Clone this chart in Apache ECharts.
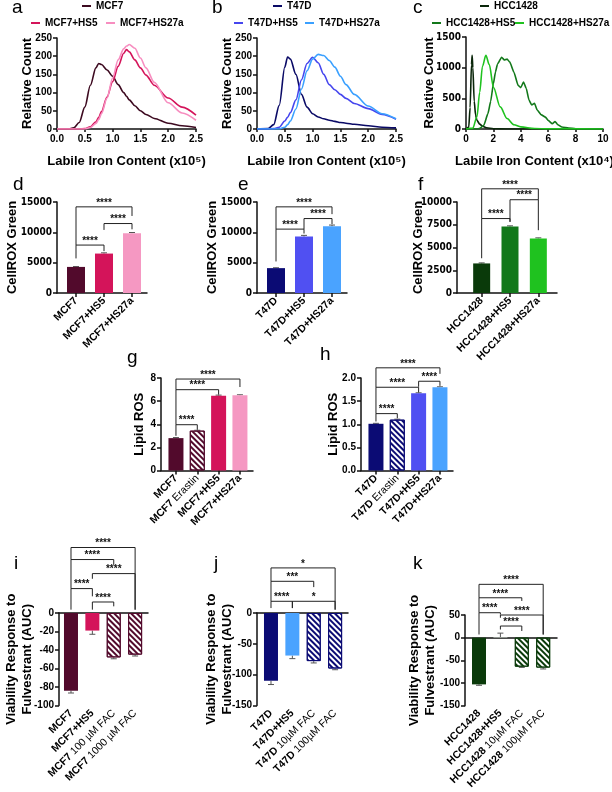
<!DOCTYPE html>
<html>
<head>
<meta charset="utf-8">
<script src="https://cdn.jsdelivr.net/npm/echarts@6/dist/echarts.min.js"></script>
<style>
html, body { margin: 0; padding: 0; background: #fff; }
#chart { width: 612px; height: 792px; }
</style>
</head>
<body>
<div id="chart"></div>
<script>
var FONT = '"Liberation Sans", Arial, sans-serif';
var NARROW = '"Liberation Sans Narrow", "DejaVu Sans Condensed", "Liberation Sans", sans-serif';

// ---- a: MCF7 labile iron histograms (x10^5)
var aX = [0, 0.2, 0.3, 0.4, 0.5, 0.6, 0.7, 0.75, 0.8, 0.9, 1.0, 1.1, 1.2, 1.25, 1.3, 1.4, 1.5, 1.6, 1.75, 2.0, 2.25, 2.5];
var aMCF7 = [0, 0, 3, 18, 60, 120, 168, 180, 177, 162, 145, 122, 100, 90, 80, 64, 50, 40, 29, 16, 9, 4];
var aMCF7HS5 = [0, 0, 0, 0, 1, 6, 20, 32, 48, 88, 130, 172, 208, 218, 212, 190, 168, 148, 120, 85, 60, 38];
var aMCF7HS27a = [0, 0, 0, 0, 0, 4, 15, 26, 42, 85, 140, 190, 220, 228, 232, 222, 195, 168, 128, 72, 44, 24];

// ---- b: T47D labile iron histograms (x10^5)
var bX = [0, 0.2, 0.3, 0.4, 0.5, 0.55, 0.6, 0.7, 0.8, 0.9, 1.0, 1.1, 1.2, 1.3, 1.4, 1.5, 1.6, 1.75, 2.0, 2.25, 2.5];
var bT47D = [0, 1, 12, 65, 170, 198, 192, 150, 95, 60, 42, 33, 28, 24, 21, 18, 16, 13, 9, 5, 3];
var bT47DHS5 = [0, 0, 1, 5, 22, 32, 45, 80, 135, 180, 197, 182, 150, 122, 108, 95, 84, 70, 56, 40, 27];
var bT47DHS27a = [0, 0, 0, 0, 5, 12, 22, 55, 110, 160, 192, 205, 202, 188, 170, 145, 122, 95, 63, 42, 28];

// ---- c: HCC1428 labile iron histograms (x10^4)
var cX1 = [0, 0.2, 0.3, 0.4, 0.45, 0.5, 0.6, 0.7, 0.8, 1.0, 1.2, 1.5, 2.0, 3.0, 10];
var cHCC = [0, 30, 350, 1050, 1200, 1000, 450, 230, 140, 80, 45, 20, 5, 0, 0];
var cX2 = [0, 0.8, 1.0, 1.3, 1.6, 1.8, 2.0, 2.15, 2.3, 2.6, 2.8, 3.0, 3.2, 3.5, 3.8, 4.0, 4.2, 4.4, 4.6, 4.8, 5.0, 5.2, 5.5, 5.8, 6.0, 6.3, 6.5, 6.7, 7.0, 7.5, 8.0, 9.0, 10];
var cHCCHS5 = [0, 0, 10, 60, 250, 450, 740, 930, 1060, 1170, 1125, 1140, 1090, 925, 712, 675, 766, 660, 471, 391, 418, 310, 230, 193, 140, 86, 123, 70, 32, 16, 5, 1, 0];
var cX3 = [0, 0.5, 0.8, 1.0, 1.2, 1.45, 1.7, 2.0, 2.5, 3.0, 3.5, 4.0, 5.0, 6.0, 10];
var cHCCHS27a = [0, 15, 200, 600, 1020, 1200, 1050, 680, 360, 170, 70, 35, 8, 2, 0];

// ---- d/e/f: CellROX Green
var dCats = ['MCF7', 'MCF7+HS5', 'MCF7+HS27a'];
var dVals = [4300, 6500, 9850];
var dErr = [60, 120, 120];
var eCats = ['T47D', 'T47D+HS5', 'T47D+HS27a'];
var eVals = [4100, 9300, 11000];
var eErr = [60, 200, 200];
var fCats = ['HCC1428', 'HCC1428+HS5', 'HCC1428+HS27a'];
var fVals = [3250, 7300, 6000];
var fErr = [60, 80, 60];

// ---- g/h: Lipid ROS
var gCats = ['MCF7', 'MCF7 Erastin', 'MCF7+HS5', 'MCF7+HS27a'];
var gVals = [2.8, 3.45, 6.47, 6.5];
var gErr = [0.05, 0.03, 0.05, 0.05];
var hCats = ['T47D', 'T47D Erastin', 'T47D+HS5', 'T47D+HS27a'];
var hVals = [1.01, 1.10, 1.67, 1.80];
var hErr = [0.01, 0.01, 0.01, 0.01];

// ---- i/j/k: viability response to fulvestrant (AUC)
var iCats = ['MCF7', 'MCF7+HS5', 'MCF7 100 µM FAC', 'MCF7 1000 µM FAC'];
var iVals = [-84, -19, -48, -45];
var iErr = [2.5, 4, 1.5, 1.5];
var jCats = ['T47D', 'T47D+HS5', 'T47D 10µM FAC', 'T47D 100µM FAC'];
var jVals = [-110, -69, -78, -90];
var jErr = [6, 5, 3, 2];
var kCats = ['HCC1428', 'HCC1428+HS5', 'HCC1428 10µM FAC', 'HCC1428 100µM FAC'];
var kVals = [-103, 1, -64, -66];
var kErr = [2, 9, 1.5, 3];

// significance brackets: [from, to, level, left leg end, right leg end]
var dBrackets = [[0, 2, 14200, 7900, 12700], [1, 2, 11450, 10400, 10500], [0, 1, 7900, 5700, 6900]];
var dStars = ['****', '****', '****'];
var eBrackets = [[0, 2, 14200, 10530, 13000], [1, 2, 12270, 10530, 11350], [0, 1, 10530, 5200, 9800]];
var eStars = ['****', '****', '****'];
var fBrackets = [[0, 2, 11450, 8180, 10250], [1, 2, 10250, 7820, 6900], [0, 1, 8180, 3820, 7820]];
var fStars = ['****', '****', '****'];
var gBrackets = [[0, 3, 7.91, 6.99, 7.22], [0, 2, 6.99, 3.96, 6.56], [0, 1, 3.96, 3.0, 3.52]];
var gStars = ['****', '****', '****'];
var hBrackets = [[0, 3, 2.22, 1.80, 2.09], [0, 2, 1.80, 1.23, 1.69], [2, 3, 1.93, 1.81, 1.83], [0, 1, 1.23, 1.06, 1.13]];
var hStars = ['****', '****', '****', '****'];
var iBrackets = [[0, 3, 70.8, 57.8, 3.6], [0, 2, 57.8, 26.4, 52], [1, 3, 42.6, 37, 3.6], [0, 1, 26.4, 3.6, 18], [1, 2, 11.9, 3.6, 7.2]];
var iStars = ['****', '****', '****', '****', '****'];
var jBrackets = [[0, 3, 73.1, 51.4, 5.4], [0, 2, 51.4, 19, 42], [0, 1, 19, 8, 8], [1, 3, 19, 8, 5.4]];
var jStars = ['*', '***', '****', '*'];
var kBrackets = [[0, 3, 117.6, 88, 7], [0, 2, 88, 55, 81], [0, 1, 55, 7, 51], [1, 3, 50, 44, 7], [1, 2, 25.7, 18, 14.7]];
var kStars = ['****', '****', '****', '****', '****'];

// colours
var MAROON = '#520a2c', CRIMSON = '#d4145a', PINK = '#f598c2';
var NAVY = '#0b0b74', BLUE = '#5050f2', SKY = '#4aa3ff';
var DKGREEN = '#0a3a0a', GREEN = '#12781a', LIME = '#1fc21f';

var axisLS = { color: '#111', width: 1.5 };
var grid = [], xAxis = [], yAxis = [], series = [], legend = [], title = [];

function pairs(xs, ys) {
    return xs.map(function (x, i) { return [x, ys[i]]; });
}

function plain(v) { return String(v); }

function addGrid(left, top, width, height) {
    grid.push({ left: left, top: top, width: width, height: height, outerBoundsMode: 'none', containLabel: false });
    return grid.length - 1;
}

function tickLabel(fmt, family) {
    return { fontFamily: family || FONT, fontWeight: 'bold', fontSize: 10, color: '#000', margin: 5, formatter: fmt || plain };
}

function nameStyle(extra) {
    var s = { fontFamily: FONT, fontWeight: 'bold', fontSize: 13, color: '#000' };
    for (var k in extra) s[k] = extra[k];
    return s;
}

function addLetter(text, left, top) {
    title.push({
        text: text, left: left, top: top, padding: 0,
        textStyle: { fontFamily: FONT, fontSize: 19, fontWeight: 'normal', color: '#000' }
    });
}

function addLegend(name, left, top) {
    legend.push({
        data: [name], left: left, top: top,
        icon: 'rect', itemWidth: 9, itemHeight: 2, padding: 0,
        textStyle: { fontFamily: FONT, fontWeight: 'bold', fontSize: 10, color: '#000' }
    });
}

function addLinePanel(p) {
    var gi = addGrid(p.left, p.top, p.width, p.height);
    xAxis.push({
        gridIndex: gi, type: 'value', min: 0, max: p.xMax, interval: p.xInt,
        name: p.xName, nameLocation: 'middle', nameGap: 26, nameMoveOverlap: false, nameTextStyle: nameStyle({}),
        axisLine: { show: true, lineStyle: axisLS },
        axisTick: { show: true, length: 3, lineStyle: axisLS },
        axisLabel: tickLabel(p.xFmt), splitLine: { show: false }
    });
    yAxis.push({
        gridIndex: gi, type: 'value', min: 0, max: p.yMax, interval: p.yInt,
        name: 'Relative Count', nameLocation: 'middle', nameRotate: 90, nameGap: p.nameGap,
        nameMoveOverlap: false, nameTextStyle: nameStyle({}),
        axisLine: { show: true, lineStyle: axisLS },
        axisTick: { show: true, length: 4, lineStyle: axisLS },
        axisLabel: tickLabel(null, p.yFont), splitLine: { show: false }
    });
    p.lines.forEach(function (l, i) {
        series.push({
            type: 'line', name: l.name, xAxisIndex: gi, yAxisIndex: gi,
            data: pairs(l.x, l.y), showSymbol: false, smooth: l.smooth, smoothMonotone: 'x',
            lineStyle: { color: l.color, width: 1.6 }, itemStyle: { color: l.color }
        });
        addLegend(l.name, p.legs[i][0], p.legs[i][1]);
    });
}

function catLabel(v) {
    var sp = v.indexOf(' ');
    if (sp < 0) return '{b|' + v + '}';
    return '{b|' + v.slice(0, sp) + '}{n|' + v.slice(sp) + '}';
}

function hatch(c) {
    return {
        color: '#fff', borderColor: c, borderWidth: 1,
        decal: { symbol: 'rect', symbolSize: 1, color: c, dashArrayX: [1, 0], dashArrayY: [2, 2], rotation: Math.PI / 4 }
    };
}

function addBarPanel(p) {
    // frame grid carries the visible y axis and the x axis line
    var fi = addGrid(p.frame[0], p.top, p.frame[1], p.height);
    xAxis.push({
        gridIndex: fi, type: 'value', min: 0, max: 1,
        axisLine: { show: true, onZero: true, lineStyle: axisLS },
        axisTick: { show: false }, axisLabel: { show: false }, splitLine: { show: false }
    });
    yAxis.push({
        gridIndex: fi, type: 'value', min: p.min, max: p.max, interval: p.interval,
        name: p.yName, nameLocation: 'middle', nameRotate: 90, nameGap: p.nameGap, nameMoveOverlap: false,
        nameTextStyle: nameStyle({ lineHeight: 16 }),
        axisLine: { show: true, lineStyle: axisLS },
        axisTick: { show: true, length: 4, lineStyle: axisLS },
        axisLabel: tickLabel(p.yFmt, p.yFont), splitLine: { show: false }
    });
    // bar grid: categories
    var bi = addGrid(p.bars[0], p.top, p.bars[1], p.height);
    var xi = xAxis.length;
    xAxis.push({
        gridIndex: bi, type: 'category', data: p.cats,
        axisLine: { show: false, onZero: false },
        axisTick: { show: p.ticks, alignWithLabel: true, length: 4, lineStyle: axisLS },
        axisLabel: {
            rotate: 45, margin: 6, interval: 0, formatter: catLabel,
            rich: {
                b: { fontFamily: FONT, fontWeight: 'bold', fontSize: 10.5, color: '#000' },
                n: { fontFamily: FONT, fontWeight: 'normal', fontSize: 10.5, color: '#000' }
            }
        }
    });
    var yi = yAxis.length;
    yAxis.push({ gridIndex: bi, type: 'value', min: p.min, max: p.max, show: false });

    series.push({
        type: 'bar', name: p.id + ' bars', xAxisIndex: xi, yAxisIndex: yi, barWidth: p.barWidth,
        data: p.vals.map(function (v, i) {
            var st = p.styles[i];
            return { value: v, itemStyle: st.hatch ? hatch(st.color) : { color: st.color } };
        })
    });
    series.push({
        type: 'custom', name: p.id + ' err', xAxisIndex: xi, yAxisIndex: yi, clip: false,
        data: p.vals.map(function (v, i) { return [i, v, p.err[i]]; }),
        renderItem: function (params, api) {
            var v = api.value(1), e = api.value(2);
            var end = v >= 0 ? v + e : v - e;
            var a = api.coord([api.value(0), v]), b = api.coord([api.value(0), end]);
            var ls = { stroke: '#555', lineWidth: 1 };
            return {
                type: 'group', children: [
                    { type: 'line', shape: { x1: a[0], y1: a[1], x2: b[0], y2: b[1] }, style: ls },
                    { type: 'line', shape: { x1: b[0] - 3, y1: b[1], x2: b[0] + 3, y2: b[1] }, style: ls }
                ]
            };
        }
    });
    series.push({
        type: 'custom', name: p.id + ' sig', xAxisIndex: xi, yAxisIndex: yi, clip: false,
        data: p.brackets,
        renderItem: function (params, api) {
            var x1 = api.value(0), x2 = api.value(1), y = api.value(2);
            var a = api.coord([x1, y]), b = api.coord([x2, y]);
            var l = api.coord([x1, api.value(3)]), r = api.coord([x2, api.value(4)]);
            return {
                type: 'group', children: [
                    {
                        type: 'polyline',
                        shape: { points: [[a[0], l[1]], a, b, [b[0], r[1]]] },
                        style: { stroke: '#222', fill: null, lineWidth: 1 }
                    },
                    {
                        type: 'text', x: (a[0] + b[0]) / 2, y: a[1] + 1,
                        style: {
                            text: p.stars[params.dataIndex], fill: '#111',
                            font: 'bold 10px ' + FONT, align: 'center', verticalAlign: 'bottom'
                        }
                    }
                ]
            };
        }
    });
}

// ---- top row
addLinePanel({
    left: 57, top: 38, width: 139, height: 91, xMax: 2.5, xInt: 0.5, yMax: 250, yInt: 50,
    xName: 'Labile Iron Content (x10⁵)', nameGap: 23.5,
    xFmt: function (v) { return v.toFixed(1); },
    legs: [[82, 1], [31, 18], [106, 18]],
    lines: [
        { name: 'MCF7', x: aX, y: aMCF7, color: '#3d0a20', smooth: 0.3 },
        { name: 'MCF7+HS5', x: aX, y: aMCF7HS5, color: CRIMSON, smooth: 0.3 },
        { name: 'MCF7+HS27a', x: aX, y: aMCF7HS27a, color: '#f78ec0', smooth: 0.3 }
    ]
});
addLinePanel({
    left: 257, top: 38, width: 139, height: 91, xMax: 2.5, xInt: 0.5, yMax: 250, yInt: 50,
    xName: 'Labile Iron Content (x10⁵)', nameGap: 23.5,
    xFmt: function (v) { return v.toFixed(1); },
    legs: [[273, 1], [234, 18], [305, 18]],
    lines: [
        { name: 'T47D', x: bX, y: bT47D, color: '#0a0a66', smooth: 0.3 },
        { name: 'T47D+HS5', x: bX, y: bT47DHS5, color: '#4646ee', smooth: 0.3 },
        { name: 'T47D+HS27a', x: bX, y: bT47DHS27a, color: '#3aa0ff', smooth: 0.3 }
    ]
});
addLinePanel({
    left: 466, top: 37, width: 137, height: 92, xMax: 10, xInt: 2, yMax: 1500, yInt: 500,
    xName: 'Labile Iron Content (x10⁴)', nameGap: 30, yFont: NARROW,
    legs: [[480, 1], [432, 18], [515, 18]],
    lines: [
        { name: 'HCC1428', x: cX1, y: cHCC, color: '#0a260a', smooth: 0.25 },
        { name: 'HCC1428+HS5', x: cX2, y: cHCCHS5, color: GREEN, smooth: 0.15 },
        { name: 'HCC1428+HS27a', x: cX3, y: cHCCHS27a, color: LIME, smooth: 0.3 }
    ]
});

// ---- second row: CellROX Green
addBarPanel({
    id: 'd', frame: [57, 90], bars: [62, 84], top: 202, height: 91, min: 0, max: 15000, interval: 5000,
    yName: 'CellROX Green', nameGap: 36.5, yFont: NARROW, cats: dCats, vals: dVals, err: dErr, barWidth: 18, ticks: true,
    styles: [{ color: MAROON }, { color: CRIMSON }, { color: PINK }],
    brackets: dBrackets, stars: dStars
});
addBarPanel({
    id: 'e', frame: [257, 90], bars: [262, 84], top: 202, height: 91, min: 0, max: 15000, interval: 5000,
    yName: 'CellROX Green', nameGap: 36.5, yFont: NARROW, cats: eCats, vals: eVals, err: eErr, barWidth: 18, ticks: true,
    styles: [{ color: NAVY }, { color: BLUE }, { color: SKY }],
    brackets: eBrackets, stars: eStars
});
addBarPanel({
    id: 'f', frame: [457, 100], bars: [467.5, 85], top: 202, height: 91, min: 0, max: 10000, interval: 2500,
    yName: 'CellROX Green', nameGap: 31, yFont: NARROW, cats: fCats, vals: fVals, err: fErr, barWidth: 17, ticks: true,
    styles: [{ color: DKGREEN }, { color: GREEN }, { color: LIME }],
    brackets: fBrackets, stars: fStars
});

// ---- third row: Lipid ROS
addBarPanel({
    id: 'g', frame: [161, 92], bars: [165.3, 85.3], top: 378, height: 92.5, min: 0, max: 8, interval: 2,
    yName: 'Lipid ROS', nameGap: 13.5, cats: gCats, vals: gVals, err: gErr, barWidth: 15, ticks: true,
    styles: [{ color: MAROON }, { color: MAROON, hatch: true }, { color: CRIMSON }, { color: PINK }],
    brackets: gBrackets, stars: gStars
});
addBarPanel({
    id: 'h', frame: [361, 92], bars: [365.3, 85.3], top: 378, height: 92.5, min: 0, max: 2, interval: 0.5,
    yName: 'Lipid ROS', nameGap: 19.5, cats: hCats, vals: hVals, err: hErr, barWidth: 15, ticks: true,
    yFmt: function (v) { return v.toFixed(1); },
    styles: [{ color: NAVY }, { color: NAVY, hatch: true }, { color: BLUE }, { color: SKY }],
    brackets: hBrackets, stars: hStars
});

// ---- bottom row: viability
var VIAB = 'Viability Response to\nFulvestrant (AUC)';
addBarPanel({
    id: 'i', frame: [59, 89], bars: [60.3, 85.5], top: 613, height: 92.5, min: -100, max: 0, interval: 20,
    yName: VIAB, nameGap: 24, cats: iCats, vals: iVals, err: iErr, barWidth: 14, ticks: false,
    styles: [{ color: MAROON }, { color: CRIMSON }, { color: MAROON, hatch: true }, { color: MAROON, hatch: true }],
    brackets: iBrackets, stars: iStars
});
addBarPanel({
    id: 'j', frame: [257, 91], bars: [260.3, 85.5], top: 613, height: 92.5, min: -150, max: 0, interval: 50,
    yName: VIAB, nameGap: 22, cats: jCats, vals: jVals, err: jErr, barWidth: 14, ticks: false,
    styles: [{ color: NAVY }, { color: SKY }, { color: NAVY, hatch: true }, { color: NAVY, hatch: true }],
    brackets: jBrackets, stars: jStars
});
addBarPanel({
    id: 'k', frame: [465, 92], bars: [468.3, 85.6], top: 615, height: 90.7, min: -150, max: 50, interval: 50,
    yName: VIAB, nameGap: 27, cats: kCats, vals: kVals, err: kErr, barWidth: 14, ticks: false,
    styles: [{ color: DKGREEN }, { color: '#e6f4e6' }, { color: DKGREEN, hatch: true }, { color: DKGREEN, hatch: true }],
    brackets: kBrackets, stars: kStars
});

addLetter('a', 12, -2); addLetter('b', 212, -2); addLetter('c', 413, -2);
addLetter('d', 13, 175); addLetter('e', 238, 175); addLetter('f', 418, 175);
addLetter('g', 127, 348); addLetter('h', 320, 345);
addLetter('i', 14, 554); addLetter('j', 214, 554); addLetter('k', 413, 554);

var chart = echarts.init(document.getElementById('chart'), null, { renderer: 'canvas' });
chart.setOption({
    animation: false,
    backgroundColor: '#fff',
    title: title,
    legend: legend,
    grid: grid,
    xAxis: xAxis,
    yAxis: yAxis,
    series: series
});
</script>
</body>
</html>
